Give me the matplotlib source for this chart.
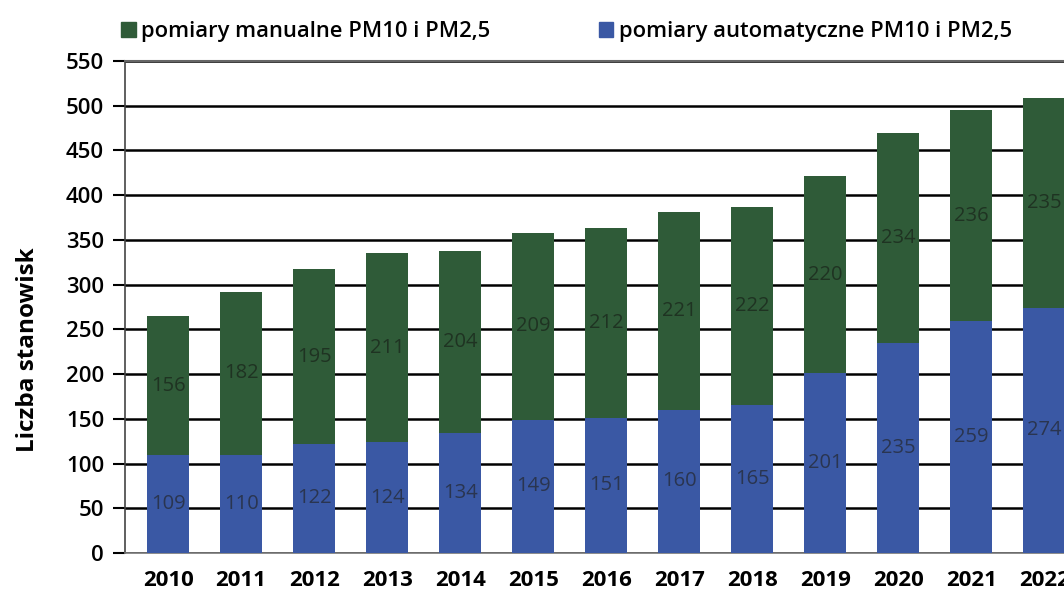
import matplotlib.pyplot as plt
import numpy as np
from matplotlib.patches import Patch

plt.rcParams['font.family'] = ['Open Sans', 'DejaVu Sans']

years = ['2010', '2011', '2012', '2013', '2014', '2015', '2016',
         '2017', '2018', '2019', '2020', '2021', '2022']
auto_vals = [109, 110, 122, 124, 134, 149, 151, 160, 165, 201, 235, 259, 274]
manual_vals = [156, 182, 195, 211, 204, 209, 212, 221, 222, 220, 234, 236, 235]
y_ticks = [0, 50, 100, 150, 200, 250, 300, 350, 400, 450, 500, 550]

colors = {'auto': '#3A58A4', 'manual': '#2F5B38'}

fig = plt.figure(figsize=(10.64, 5.98), dpi=100)
ax = fig.add_axes([125 / 1064, 1 - 553 / 598, 1 - 125 / 1064, 492 / 598])

x = np.arange(len(years))
w = 0.57
ax.bar(x, auto_vals, width=w, color=colors['auto'], zorder=3)
ax.bar(x, manual_vals, width=w, bottom=auto_vals, color=colors['manual'], zorder=3)

# value labels in the middle of each segment
for i in range(len(years)):
    ax.text(x[i], auto_vals[i] / 2, str(auto_vals[i]), ha='center', va='center',
            fontsize=14.5, color='#2a3550', zorder=4)
    ax.text(x[i], auto_vals[i] + manual_vals[i] / 2, str(manual_vals[i]),
            ha='center', va='center', fontsize=14.5, color='#1f3322', zorder=4)

ax.set_xlim(-0.59, 12.27)
ax.set_ylim(0, 550)
ax.set_yticks(y_ticks)
ax.set_yticklabels([str(v) for v in y_ticks], fontsize=16, fontweight='semibold')
ax.set_xticks(x)
ax.set_xticklabels(years, fontsize=16, fontweight='bold')
ax.tick_params(axis='x', length=0, pad=12)
ax.tick_params(axis='y', length=9, width=1.5, color='black', pad=6, direction='out')

ax.yaxis.grid(True, color='black', linewidth=1.8, zorder=0)
ax.set_axisbelow(True)
ax.spines['right'].set_visible(False)
ax.spines['top'].set_color('#666666')
ax.spines['top'].set_linewidth(1.5)
ax.spines['left'].set_color('#444444')
ax.spines['left'].set_linewidth(1.2)
ax.spines['bottom'].set_color('#777777')
ax.spines['bottom'].set_linewidth(1.2)

ax.set_ylabel('Liczba stanowisk', fontsize=17.5, fontweight='bold')
ax.yaxis.set_label_coords(-85 / 940, (553 - 350) / 492)

handles = [Patch(color=colors['manual'], label='pomiary manualne PM10 i PM2,5'),
           Patch(color=colors['auto'], label='pomiary automatyczne PM10 i PM2,5')]
fig.legend(handles=handles, loc='center left', bbox_to_anchor=(106 / 1064, 1 - 32 / 598),
           ncol=2, frameon=False, prop={'size': 15.8, 'weight': 'semibold'},
           handlelength=0.65, handleheight=0.65,
           handletextpad=0.25, columnspacing=4.95, borderaxespad=0.3)

fig.savefig('out.png', dpi=100)
